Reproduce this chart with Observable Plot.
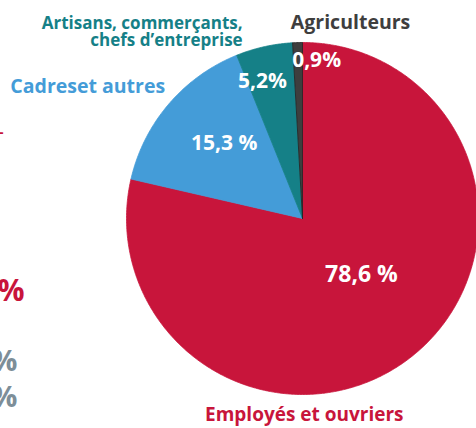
<!DOCTYPE html>
<html>
<head>
<meta charset="utf-8">
<script src="https://cdn.jsdelivr.net/npm/d3@7"></script>
<script src="https://cdn.jsdelivr.net/npm/@observablehq/plot@0.6"></script>
<style>
  html, body { margin: 0; padding: 0; background: #fff; }
  #chart { width: 476px; height: 428px; overflow: hidden; }
  svg { font-family: "Open Sans", sans-serif; }
</style>
</head>
<body>
<div id="chart"></div>
<script>
// ---- data ----
const categories = ["Employés et ouvriers", "Cadreset autres", "Artisans, commerçants,\nchefs d’entreprise", "Agriculteurs"];
const shares = [78.6, 15.3, 5.2, 0.9];
const shareLabels = ["78,6 %", "15,3 %", "5,2%", "0,9%"];
const colors = ["#C8153B", "#449CD8", "#158087", "#3E3E3E"];
const textColors = ["#C8153B", "#449CD8", "#158087", "#3E3E3E"];

// ---- geometry: slices clockwise from 12 o'clock ----
const total = d3.sum(shares);
let acc = 0;
const slices = categories.map((c, i) => {
  const a0 = acc / total * 2 * Math.PI;
  acc += shares[i];
  const a1 = acc / total * 2 * Math.PI;
  return {category: c, i, a0, a1};
});
const polyPoints = [];
for (const s of slices) {
  polyPoints.push({cat: s.category, i: s.i, x: 0, y: 0});
  const n = Math.max(4, Math.ceil((s.a1 - s.a0) / (Math.PI / 360)));
  for (let k = 0; k <= n; k++) {
    const a = s.a0 + (s.a1 - s.a0) * k / n;
    polyPoints.push({cat: s.category, i: s.i, x: Math.sin(a), y: Math.cos(a)});
  }
  polyPoints.push({cat: s.category, i: s.i, x: 0, y: 0});
}

// layout: label positions in unit (radius = 1) coordinates
const inner = [
  {i: 0, x: 0.335, y: -0.32},
  {i: 1, x: -0.445, y: 0.43},
  {i: 2, x: -0.227, y: 0.78},
  {i: 3, x: 0.08, y: 0.90}
].map(d => ({...d, label: shareLabels[d.i]}));

const outer = [
  {i: 0, x: 0.01, y: -1.116, anchor: "middle", size: 19},
  {i: 1, x: -1.66, y: 0.75, anchor: "start", size: 19.5},
  {i: 2, x: -0.34, y: 1.062, anchor: "end", size: 17},
  {i: 3, x: 0.273, y: 1.115, anchor: "middle", size: 19.5}
].map(d => ({...d, label: categories[d.i]}));

const cx = 302, cy = 218, R = 176, W = 476, H = 428;

const chart = Plot.plot({
  width: W,
  height: H,
  margin: 0,
  x: {domain: [(0 - cx) / R, (W - cx) / R], axis: null},
  y: {domain: [(cy - H) / R, cy / R], axis: null},
  marks: [
    Plot.line(polyPoints, {
      x: "x", y: "y", z: "cat",
      fill: d => colors[d.i],
      stroke: d => d.i === 3 ? "#222" : colors[d.i],
      strokeWidth: 0.8,
      curve: "linear"
    }),
    Plot.text(inner, {
      x: "x", y: "y", text: "label",
      fill: "white", fontSize: d => d.i === 0 ? 23 : 21, fontWeight: 700
    }),
    ...outer.map(d => Plot.text([d], {
      x: "x", y: "y", text: "label",
      fill: textColors[d.i], fontSize: d.size, fontWeight: 700,
      textAnchor: d.anchor, lineHeight: 1.0
    })),
    // fragments of the neighbouring panel, cut off at the left edge
    Plot.text([{x: (3 - cx) / R, y: (cy - 132) / R, t: "-"}], {x: "x", y: "y", text: "t", textAnchor: "end", fill: "#C8153B", fontSize: 14, fontWeight: 700}),
    Plot.text([{x: (24 - cx) / R, y: (cy - 291) / R, t: "%"}], {x: "x", y: "y", text: "t", textAnchor: "end", fill: "#C8153B", fontSize: 30, fontWeight: 700}),
    Plot.text([{x: (17 - cx) / R, y: (cy - 361) / R, t: "%"}, {x: (17 - cx) / R, y: (cy - 397) / R, t: "%"}], {x: "x", y: "y", text: "t", textAnchor: "end", fill: "#7D8E98", fontSize: 29, fontWeight: 700})
  ]
});
document.getElementById("chart").appendChild(chart);
</script>
</body>
</html>
